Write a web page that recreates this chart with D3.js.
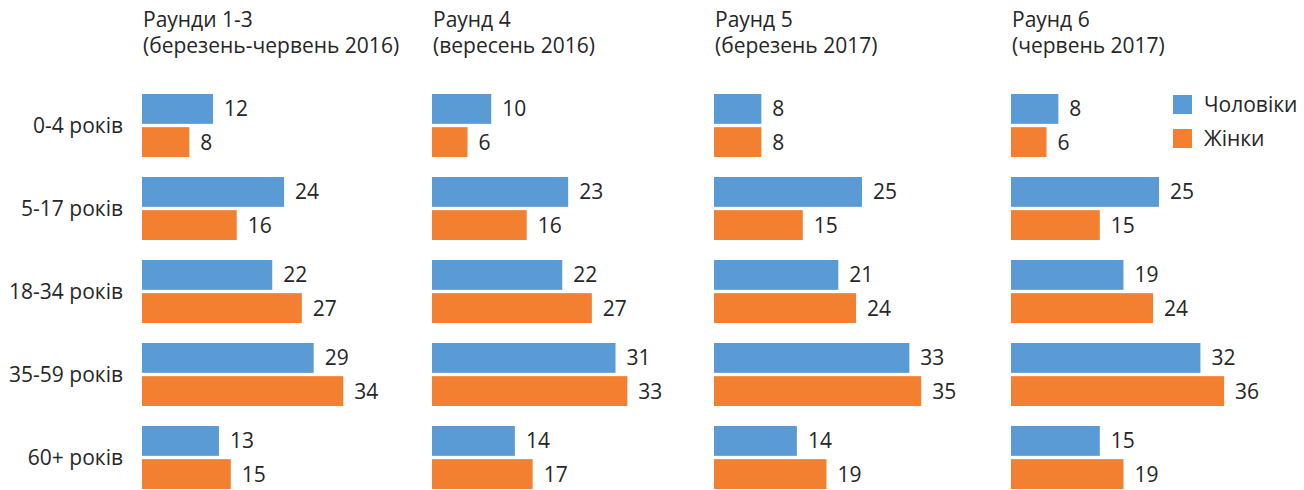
<!DOCTYPE html>
<html>
<head>
<meta charset="utf-8">
<script src="https://cdn.jsdelivr.net/npm/d3@7"></script>
<style>
  body { margin: 0; background: #fff; }
  text { font-family: "Open Sans", "Noto Sans", sans-serif; fill: #262626; }
</style>
</head>
<body>
<div id="app"></div>
<script>
// data
var ageGroups = ["0-4 років", "5-17 років", "18-34 років", "35-59 років", "60+ років"];
var seriesNames = ["Чоловіки", "Жінки"];
var panelTitles = [
  ["Раунди 1-3", "(березень-червень 2016)"],
  ["Раунд 4", "(вересень 2016)"],
  ["Раунд 5", "(березень 2017)"],
  ["Раунд 6", "(червень 2017)"]
];
var menValues = [
  [12, 24, 22, 29, 13],
  [10, 23, 22, 31, 14],
  [8, 25, 21, 33, 14],
  [8, 25, 19, 32, 15]
];
var womenValues = [
  [8, 16, 27, 34, 15],
  [6, 16, 27, 33, 17],
  [8, 15, 24, 35, 19],
  [6, 15, 24, 36, 19]
];
var colors = ["#5B9BD5", "#F28030"];

var width = 1304, height = 490;
var panelLeft = [142, 432, 714, 1011];
var fontSize = 21;

var svg = d3.select("#app")
  .append("svg")
    .attr("width", width)
    .attr("height", height);

// scales
var x = d3.scaleLinear()
  .domain([0, 40])
  .range([0, 236.8]);

var y = d3.scaleBand()
  .domain(ageGroups)
  .range([94, 489])
  .paddingInner(0.241)
  .paddingOuter(0);

var ySub = d3.scaleBand()
  .domain(seriesNames)
  .range([0, y.bandwidth()])
  .paddingInner(0.1);

var color = d3.scaleOrdinal()
  .domain(seriesNames)
  .range(colors);

// category labels
svg.append("g")
  .selectAll("text")
  .data(ageGroups)
  .join("text")
    .attr("x", 123)
    .attr("y", d => y(d) + y.bandwidth() / 2)
    .attr("dy", "0.36em")
    .attr("text-anchor", "end")
    .style("font-size", fontSize + "px")
    .text(d => d);

// panels
panelTitles.forEach(function(title, i) {
  var g = svg.append("g")
    .attr("transform", "translate(" + panelLeft[i] + ",0)");

  g.append("text")
    .attr("x", 1)
    .attr("y", 27)
    .style("font-size", fontSize + "px")
    .text(title[0]);
  g.append("text")
    .attr("x", 1)
    .attr("y", 53)
    .style("font-size", fontSize + "px")
    .text(title[1]);

  var rows = [];
  ageGroups.forEach(function(a, j) {
    rows.push({ age: a, series: seriesNames[0], value: menValues[i][j] });
    rows.push({ age: a, series: seriesNames[1], value: womenValues[i][j] });
  });

  g.selectAll("rect")
    .data(rows)
    .join("rect")
      .attr("x", 0)
      .attr("y", d => y(d.age) + ySub(d.series))
      .attr("width", d => x(d.value))
      .attr("height", ySub.bandwidth())
      .attr("fill", d => color(d.series));

  g.selectAll("text.val")
    .data(rows)
    .join("text")
      .attr("class", "val")
      .attr("x", d => x(d.value) + 11)
      .attr("y", d => y(d.age) + ySub(d.series) + ySub.bandwidth() / 2)
      .attr("dy", "0.36em")
      .style("font-size", fontSize + "px")
      .text(d => d.value);
});

// legend
var legend = svg.append("g")
  .attr("transform", "translate(1173,95)");

legend.selectAll("rect")
  .data(seriesNames)
  .join("rect")
    .attr("x", 0)
    .attr("y", (d, i) => i * 34)
    .attr("width", 19)
    .attr("height", 19)
    .attr("fill", d => color(d));

legend.selectAll("text")
  .data(seriesNames)
  .join("text")
    .attr("x", 31)
    .attr("y", (d, i) => i * 34 + 9.5)
    .attr("dy", "0.36em")
    .style("font-size", fontSize + "px")
    .text(d => d);
</script>
</body>
</html>
